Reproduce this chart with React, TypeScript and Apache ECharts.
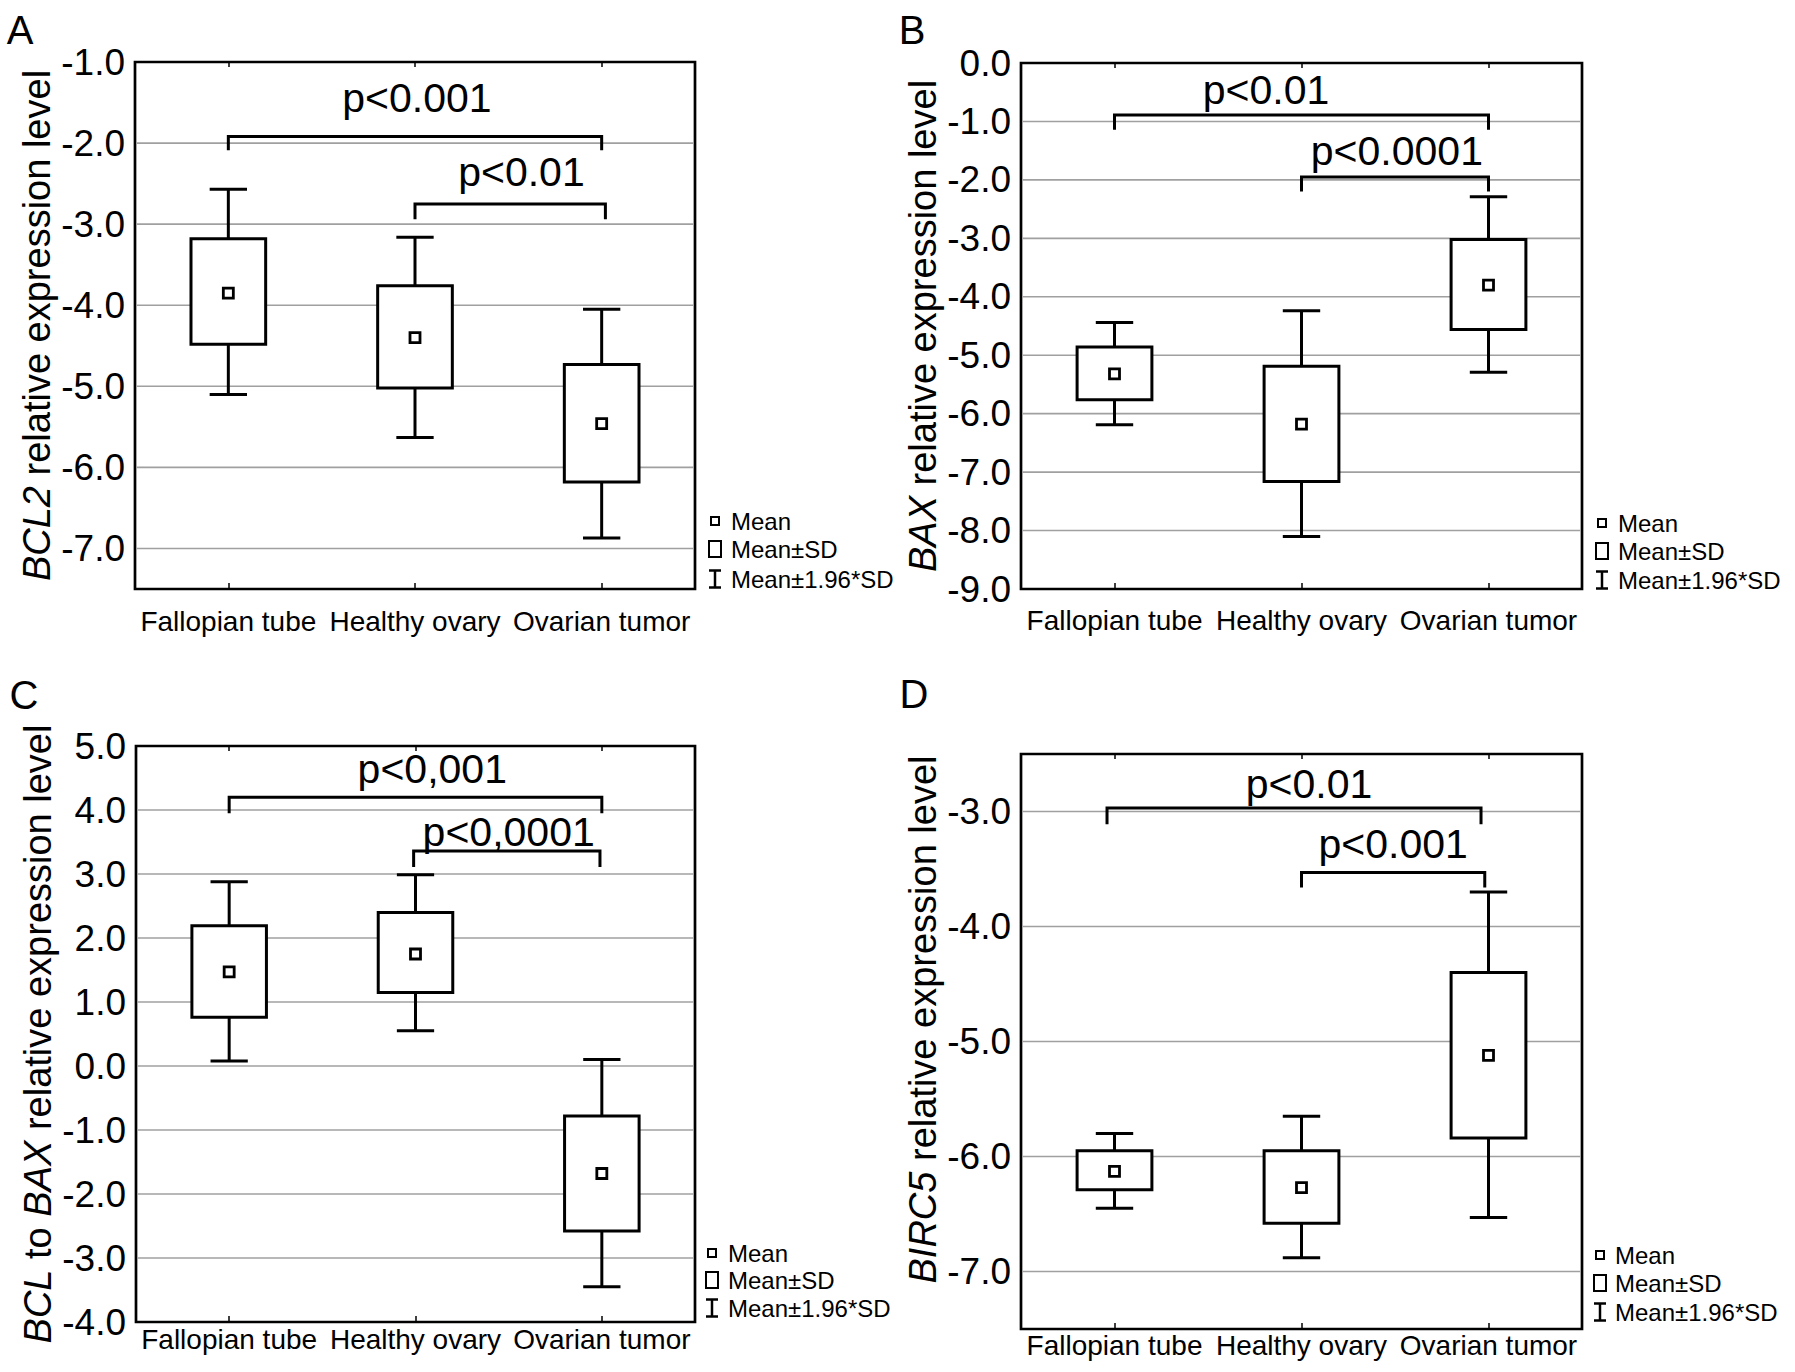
import React, { useEffect, useRef } from 'react';
import * as echarts from 'echarts';

const FONT = '"Liberation Sans", Arial, Helvetica, sans-serif';

const categories = ['Fallopian tube', 'Healthy ovary', 'Ovarian tumor'];
const legendLabels = ['Mean', 'Mean\u00b1SD', 'Mean\u00b11.96*SD'];

// Panel A – BCL2
const bcl2Mean = [-3.85, -4.4, -5.46];
const bcl2SdUpper = [-3.18, -3.76, -4.73];
const bcl2SdLower = [-4.48, -5.02, -6.18];
const bcl2CiUpper = [-2.57, -3.16, -4.05];
const bcl2CiLower = [-5.1, -5.63, -6.87];
const bcl2Ticks = [-1, -2, -3, -4, -5, -6, -7];
// [fromCat, toCat, bracketY, tickEndY, labelCat, labelY]
const bcl2Brackets = [
  [0, 2, -1.92, -2.09, 1.01, -1.44],
  [1, 2.02, -2.75, -2.94, 1.57, -2.36],
];
const bcl2PLabels = ['p<0.001', 'p<0.01'];

// Panel B – BAX
const baxMean = [-5.32, -6.18, -3.8];
const baxSdUpper = [-4.86, -5.19, -3.02];
const baxSdLower = [-5.76, -7.16, -4.56];
const baxCiUpper = [-4.44, -4.24, -2.29];
const baxCiLower = [-6.19, -8.1, -5.29];
const baxTicks = [0, -1, -2, -3, -4, -5, -6, -7, -8, -9];
const baxBrackets = [
  [0, 2, -0.89, -1.14, 0.81, -0.46],
  [1, 2, -1.95, -2.2, 1.51, -1.51],
];
const baxPLabels = ['p<0.01', 'p<0.0001'];

// Panel C – BCL to BAX
const ratioMean = [1.47, 1.75, -1.68];
const ratioSdUpper = [2.19, 2.4, -0.78];
const ratioSdLower = [0.76, 1.15, -2.58];
const ratioCiUpper = [2.88, 2.99, 0.1];
const ratioCiLower = [0.08, 0.55, -3.45];
const ratioTicks = [5, 4, 3, 2, 1, 0, -1, -2, -3, -4];
const ratioBrackets = [
  [0, 2, 4.2, 3.95, 1.09, 4.64],
  [0.99, 1.99, 3.36, 3.11, 1.5, 3.66],
];
const ratioPLabels = ['p<0,001', 'p<0,0001'];

// Panel D – BIRC5
const birc5Mean = [-6.13, -6.27, -5.12];
const birc5SdUpper = [-5.95, -5.95, -4.4];
const birc5SdLower = [-6.29, -6.58, -5.84];
const birc5CiUpper = [-5.8, -5.65, -3.7];
const birc5CiLower = [-6.45, -6.88, -6.53];
const birc5Ticks = [-3, -4, -5, -6, -7];
const birc5Brackets = [
  [-0.04, 1.96, -2.97, -3.11, 1.04, -2.76],
  [1, 1.98, -3.53, -3.66, 1.49, -3.28],
];
const birc5PLabels = ['p<0.01', 'p<0.001'];

const panels = [
  {
    letter: 'A', letterPos: [20, 30],
    grid: { left: 135, top: 62, width: 560, height: 527 },
    min: -7.5, max: -1, ticks: bcl2Ticks,
    mean: bcl2Mean, sdU: bcl2SdUpper, sdL: bcl2SdLower, ciU: bcl2CiUpper, ciL: bcl2CiLower,
    brackets: bcl2Brackets, pLabels: bcl2PLabels,
    title: '{i|BCL2} relative expression level', namePad: [0, 0, 0, 0],
    labelMargin: 18,
    legend: { ix: 715, tx: 731, rows: [521, 549, 579] },
  },
  {
    letter: 'B', letterPos: [912, 30],
    grid: { left: 1021, top: 63, width: 561, height: 526 },
    min: -9, max: 0, ticks: baxTicks,
    mean: baxMean, sdU: baxSdUpper, sdL: baxSdLower, ciU: baxCiUpper, ciL: baxCiLower,
    brackets: baxBrackets, pLabels: baxPLabels,
    title: '{i|BAX} relative expression level', namePad: [0, 0, 0, 0],
    labelMargin: 17,
    legend: { ix: 1602, tx: 1618, rows: [523, 551, 580] },
  },
  {
    letter: 'C', letterPos: [24, 695],
    grid: { left: 136, top: 746, width: 559, height: 576 },
    min: -4, max: 5, ticks: ratioTicks,
    mean: ratioMean, sdU: ratioSdUpper, sdL: ratioSdLower, ciU: ratioCiUpper, ciL: ratioCiLower,
    brackets: ratioBrackets, pLabels: ratioPLabels,
    title: '{i|BCL} to {i|BAX} relative expression level', namePad: [0, 0, 0, 0],
    labelMargin: 3,
    legend: { ix: 712, tx: 728, rows: [1253, 1280, 1308] },
  },
  {
    letter: 'D', letterPos: [914, 694],
    grid: { left: 1021, top: 754, width: 561, height: 575 },
    min: -7.5, max: -2.5, ticks: birc5Ticks,
    mean: birc5Mean, sdU: birc5SdUpper, sdL: birc5SdLower, ciU: birc5CiUpper, ciL: birc5CiLower,
    brackets: birc5Brackets, pLabels: birc5PLabels,
    title: '{i|BIRC5} relative expression level', namePad: [0, 0, 0, 44],
    labelMargin: 2,
    legend: { ix: 1600, tx: 1615, rows: [1255, 1283, 1312] },
  },
];

function buildOption() {
  const grid = panels.map((p) => ({
    ...p.grid,
    show: true,
    borderColor: '#000',
    borderWidth: 2.7,
    backgroundColor: 'rgba(0,0,0,0)',
    containLabel: false,
  }));

  const bottomAxes = panels.map((p, i) => ({
    type: 'category',
    gridIndex: i,
    position: 'bottom',
    data: categories,
    axisLine: { show: false, onZero: false },
    axisTick: { show: true, inside: true, length: 6, alignWithLabel: true, lineStyle: { color: '#000', width: 1.5 } },
    axisLabel: { color: '#000', fontSize: 28, fontFamily: FONT, margin: p.labelMargin, interval: 0 },
    splitLine: { show: false },
  }));
  const topAxes = panels.map((p, i) => ({
    type: 'category',
    gridIndex: i,
    position: 'top',
    data: categories,
    axisLine: { show: false, onZero: false },
    axisTick: { show: true, inside: true, length: 5, alignWithLabel: true, lineStyle: { color: '#000', width: 1.5 } },
    axisLabel: { show: false },
    splitLine: { show: false },
  }));
  const xAxis = [...bottomAxes, ...topAxes];

  const yAxis = panels.map((p, i) => ({
    type: 'value',
    gridIndex: i,
    min: p.min,
    max: p.max,
    interval: 0.5,
    axisLine: { show: false, onZero: false },
    axisTick: { show: false },
    splitLine: { show: false },
    axisLabel: {
      color: '#000',
      fontSize: 37,
      fontFamily: FONT,
      margin: 10,
      formatter: (v: number) => {
        const r = Math.round(v * 10) / 10;
        if (!p.ticks.some((t) => Math.abs(t - r) < 1e-6)) return '';
        return (r === 0 ? 0 : r).toFixed(1);
      },
    },
    name: p.title,
    nameLocation: 'middle',
    nameGap: 79,
    nameTextStyle: {
      color: '#000',
      fontSize: 38,
      fontFamily: FONT,
      padding: p.namePad,
      rich: {
        i: { fontStyle: 'italic', fontSize: 38, fontFamily: FONT, color: '#000' },
      },
    },
  }));

  const series: any[] = [];
  panels.forEach((p, i) => {
    // gridlines
    series.push({
      type: 'custom',
      xAxisIndex: i,
      yAxisIndex: i,
      silent: true,
      z: 1,
      encode: { x: 0, y: 1 },
      data: p.ticks.filter((t) => t > p.min && t < p.max).map((t) => [0, t]),
      renderItem: (params: any, api: any) => {
        const cs = params.coordSys;
        const y = api.coord([0, api.value(1)])[1];
        return {
          type: 'line',
          shape: { x1: cs.x + 1.5, y1: y, x2: cs.x + cs.width - 1.5, y2: y },
          style: { stroke: '#a0a0a0', lineWidth: 1.6 },
        };
      },
    });
    // boxes
    series.push({
      type: 'custom',
      xAxisIndex: i,
      yAxisIndex: i,
      silent: true,
      z: 3,
      encode: { x: 0, y: 1 },
      data: categories.map((_, k) => [k, p.mean[k], p.ciL[k], p.sdL[k], p.sdU[k], p.ciU[k]]),
      renderItem: (params: any, api: any) => {
        const k = api.value(0);
        const c = api.coord([k, api.value(1)]);
        const cx = c[0];
        const band = api.size([1, 0])[0];
        const Y = (v: number) => api.coord([k, v])[1];
        const ym = c[1];
        const yWl = Y(api.value(2));
        const yBl = Y(api.value(3));
        const yBh = Y(api.value(4));
        const yWh = Y(api.value(5));
        const bw = band * 0.4;
        const cw = band * 0.2;
        const ms = 10;
        const st = { stroke: '#000', lineWidth: 3, fill: null };
        return {
          type: 'group',
          children: [
            { type: 'line', shape: { x1: cx, y1: yWh, x2: cx, y2: yBh }, style: st },
            { type: 'line', shape: { x1: cx, y1: yBl, x2: cx, y2: yWl }, style: st },
            { type: 'line', shape: { x1: cx - cw / 2, y1: yWh, x2: cx + cw / 2, y2: yWh }, style: st },
            { type: 'line', shape: { x1: cx - cw / 2, y1: yWl, x2: cx + cw / 2, y2: yWl }, style: st },
            {
              type: 'rect',
              shape: { x: cx - bw / 2, y: yBh, width: bw, height: yBl - yBh },
              style: { stroke: '#000', lineWidth: 3, fill: '#fff' },
            },
            {
              type: 'rect',
              shape: { x: cx - ms / 2, y: ym - ms / 2, width: ms, height: ms },
              style: { stroke: '#000', lineWidth: 2.8, fill: '#fff' },
            },
          ],
        };
      },
    });
    // significance brackets
    series.push({
      type: 'custom',
      xAxisIndex: i,
      yAxisIndex: i,
      silent: true,
      z: 4,
      encode: { x: 0, y: 1 },
      data: p.brackets.map((b) => [0, b[2], b[0], b[1], b[3], b[4], b[5]]),
      renderItem: (params: any, api: any) => {
        const yv = api.value(1);
        const x0 = api.coord([0, yv])[0];
        const band = api.size([1, 0])[0];
        const X = (f: number) => x0 + f * band;
        const Y = (v: number) => api.coord([0, v])[1];
        const x1 = X(api.value(2));
        const x2 = X(api.value(3));
        const yl = Y(yv);
        const ye = Y(api.value(4));
        return {
          type: 'group',
          children: [
            {
              type: 'polyline',
              shape: { points: [[x1, ye], [x1, yl], [x2, yl], [x2, ye]] },
              style: { stroke: '#000', lineWidth: 3, fill: null },
            },
            {
              type: 'text',
              x: X(api.value(5)),
              y: Y(api.value(6)),
              style: {
                text: p.pLabels[params.dataIndex],
                fill: '#000',
                fontSize: 41,
                fontFamily: FONT,
                align: 'center',
                verticalAlign: 'middle',
                textAlign: 'center',
                textVerticalAlign: 'middle',
              },
            },
          ],
        };
      },
    });
  });

  const txtStyle = (text: string, size: number) => ({
    text,
    fill: '#000',
    fontSize: size,
    fontFamily: FONT,
    align: 'left',
    textAlign: 'left',
    verticalAlign: 'middle',
    textVerticalAlign: 'middle',
  });

  const graphic: any[] = [];
  panels.forEach((p) => {
    graphic.push({
      type: 'text',
      x: p.letterPos[0],
      y: p.letterPos[1],
      style: { ...txtStyle(p.letter, 40), align: 'center', textAlign: 'center' },
    });
    const { ix, tx, rows } = p.legend;
    graphic.push(
      { type: 'rect', shape: { x: ix - 4, y: rows[0] - 4, width: 8, height: 8 }, style: { stroke: '#000', lineWidth: 2, fill: '#fff' } },
      { type: 'text', x: tx, y: rows[0], style: txtStyle(legendLabels[0], 24) },
      { type: 'rect', shape: { x: ix - 6, y: rows[1] - 8, width: 12, height: 16 }, style: { stroke: '#000', lineWidth: 2, fill: '#fff' } },
      { type: 'text', x: tx, y: rows[1], style: txtStyle(legendLabels[1], 24) },
      { type: 'line', shape: { x1: ix, y1: rows[2] - 8.5, x2: ix, y2: rows[2] + 8.5 }, style: { stroke: '#000', lineWidth: 2.5 } },
      { type: 'line', shape: { x1: ix - 6, y1: rows[2] - 8.5, x2: ix + 6, y2: rows[2] - 8.5 }, style: { stroke: '#000', lineWidth: 2.5 } },
      { type: 'line', shape: { x1: ix - 6, y1: rows[2] + 8.5, x2: ix + 6, y2: rows[2] + 8.5 }, style: { stroke: '#000', lineWidth: 2.5 } },
      { type: 'text', x: tx, y: rows[2], style: txtStyle(legendLabels[2], 24) },
    );
  });

  return {
    animation: false,
    backgroundColor: '#fff',
    textStyle: { fontFamily: FONT },
    grid,
    xAxis,
    yAxis,
    series,
    graphic,
  };
}

export default function App() {
  const ref = useRef<HTMLDivElement>(null);
  useEffect(() => {
    document.body.style.margin = '0';
    if (!ref.current) return;
    const chart = echarts.init(ref.current, null, { renderer: 'svg' });
    chart.setOption(buildOption() as any);
    return () => chart.dispose();
  }, []);
  return (
    <div
      ref={ref}
      style={{ position: 'absolute', left: 0, top: 0, width: 1795, height: 1372, background: '#fff' }}
    />
  );
}
